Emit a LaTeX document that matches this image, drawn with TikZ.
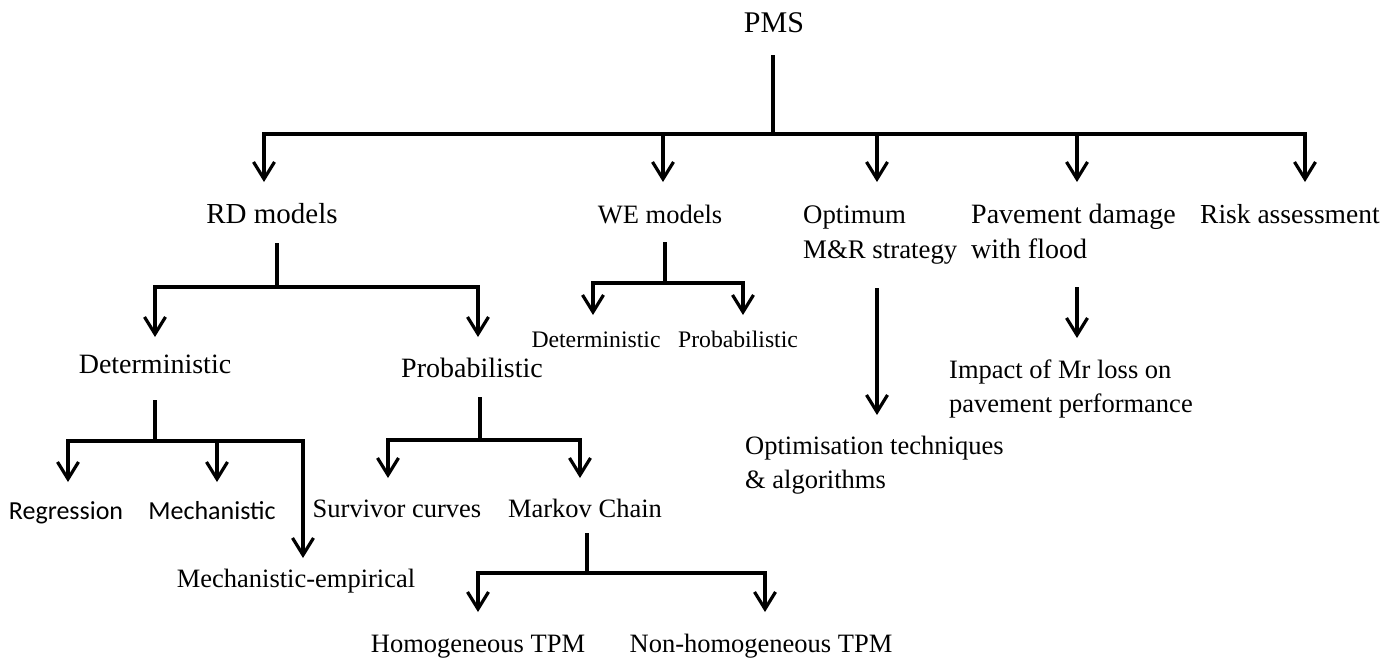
\documentclass[tikz,border=0pt]{standalone}
\usepackage{fontspec}
\setmainfont{Liberation Serif}
\newfontfamily\calibrifont{Carlito}
\usetikzlibrary{arrows.meta}

\begin{document}
\begin{tikzpicture}[x=1pt,y=-1pt,
  conn/.style={line width=3.2pt},
  tip/.style={conn,-{Straight Barb[length=17pt,width=21pt]}},
  tips/.style={conn,{Straight Barb[length=17pt,width=21pt]}-{Straight Barb[length=17pt,width=21pt]}},
  lbl/.style={inner sep=0pt,anchor=base,font=\fontsize{28}{35}\selectfont},
  % multi-line labels: the base anchor sits on the last line
  lblL/.style={lbl,anchor=base west,align=left},
  big/.style={font=\fontsize{28}{34}\selectfont},
  small/.style={font=\fontsize{23.7}{28}\selectfont},
  body/.style={font=\fontsize{26.5}{34}\selectfont},
  sans/.style={font=\calibrifont\fontsize{26}{32}\selectfont}]
\useasboundingbox (0,0) rectangle (1390,657);

% ---- labels ----
\node[lbl,font=\fontsize{30}{36}\selectfont] (pms) at (774,32) {PMS};
\node[lbl,font=\fontsize{29}{35}\selectfont] (rd) at (272,223) {RD models};
\node[lbl,font=\fontsize{26.5}{32}\selectfont] (we) at (660,223) {WE models};
\node[lblL,font=\fontsize{26.8}{35}\selectfont] (opt) at (803,258) {Optimum\\M\&R strategy};
\node[lblL] (pav) at (971,258) {Pavement damage\\with flood};
\node[lblL,font=\fontsize{27.5}{35}\selectfont] (risk) at (1200,223) {Risk assessment};

\node[lbl,big] (det) at (155,373) {Deterministic};
\node[lbl,big] (prob) at (472,377) {Probabilistic};
\node[lbl,small] (wedet) at (596,347) {Deterministic};
\node[lbl,small] (weprob) at (738,347) {Probabilistic};

\node[lbl,sans] (reg) at (66,519) {Regression};
\node[lbl,sans] (mech) at (212,519) {Mechanistic};
\node[lbl,body] (mecemp) at (296,587) {Mechanistic-empirical};
\node[lbl,body] (surv) at (397,517) {Survivor curves};
\node[lbl,body] (markov) at (585,517) {Markov Chain};
\node[lbl,body] (homo) at (478,652) {Homogeneous TPM};
\node[lbl,body] (nonhomo) at (761,652) {Non-homogeneous TPM};

\node[lblL,body] (optim) at (745,488) {Optimisation techniques\\\& algorithms};
\node[lblL,body] (impact) at (949,412) {Impact of Mr loss on\\pavement performance};

% ---- PMS level ----
\coordinate (pmsstem) at (773,55);
\coordinate (pmsj) at (773,134);
\coordinate (rdin) at (264,182);
\coordinate (wein) at (663,182);
\coordinate (optin) at (877,182);
\coordinate (pavin) at (1077,182);
\coordinate (riskin) at (1305,182);
\draw[conn] (pmsstem) -- (pmsj);
\draw[tips] (rdin) |- (pmsj) -| (riskin);
\draw[tip] (wein |- pmsj) -- (wein);
\draw[tip] (optin |- pmsj) -- (optin);
\draw[tip] (pavin |- pmsj) -- (pavin);

% ---- RD models ----
\coordinate (rdstem) at (277,243);
\coordinate (rdj) at (277,287);
\coordinate (detin) at (155,337);
\coordinate (probin) at (478,337);
\draw[conn] (rdstem) -- (rdj);
\draw[tips] (detin) |- (rdj) -| (probin);

% ---- WE models ----
\coordinate (westem) at (665,242);
\coordinate (wej) at (665,283);
\coordinate (wedetin) at (593,315);
\coordinate (weprobin) at (743,315);
\draw[conn] (westem) -- (wej);
\draw[tips] (wedetin) |- (wej) -| (weprobin);

% ---- Deterministic ----
\coordinate (detstem) at (155,400);
\coordinate (detj) at (155,441);
\coordinate (regin) at (68,482);
\coordinate (mechin) at (217,482);
\coordinate (mecempin) at (303,558);
\draw[conn] (detstem) -- (detj);
\draw[tips] (regin) |- (detj) -| (mecempin);
\draw[tip] (mechin |- detj) -- (mechin);

% ---- Probabilistic ----
\coordinate (probstem) at (480,397);
\coordinate (probj) at (480,440);
\coordinate (survin) at (388,478);
\coordinate (markovin) at (580,478);
\draw[conn] (probstem) -- (probj);
\draw[tips] (survin) |- (probj) -| (markovin);

% ---- Markov Chain ----
\coordinate (markovstem) at (587,533);
\coordinate (markovj) at (587,573);
\coordinate (homoin) at (478,612);
\coordinate (nonhomoin) at (765,612);
\draw[conn] (markovstem) -- (markovj);
\draw[tips] (homoin) |- (markovj) -| (nonhomoin);

% ---- single arrows ----
\coordinate (optstem) at (877,288);
\coordinate (optimin) at (877,415);
\draw[tip] (optstem) -- (optimin);
\coordinate (pavstem) at (1077,287);
\coordinate (impactin) at (1077,338);
\draw[tip] (pavstem) -- (impactin);
\end{tikzpicture}
\end{document}
